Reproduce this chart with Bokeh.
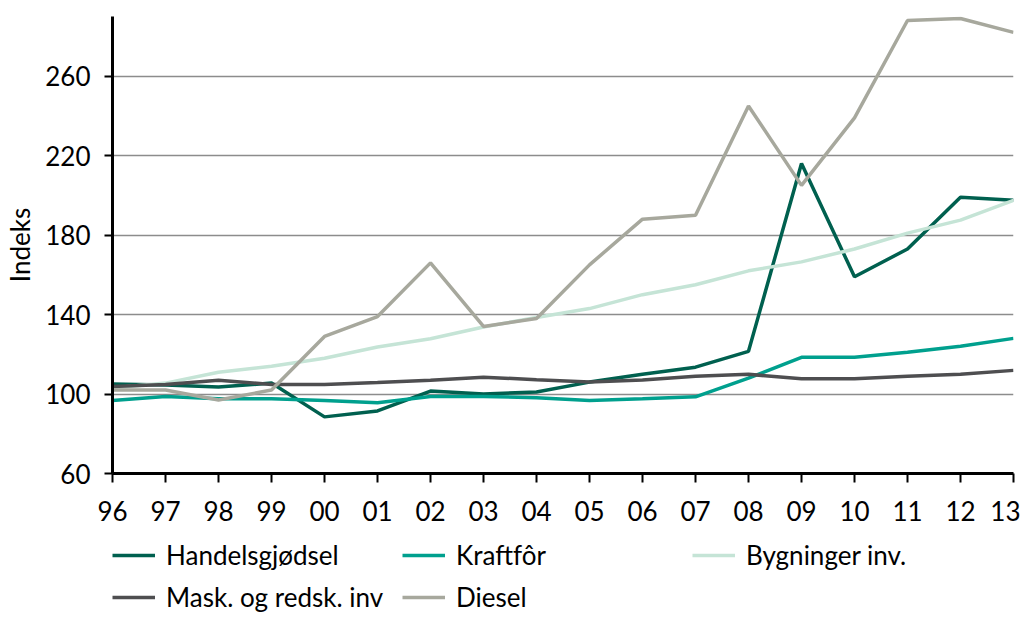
from bokeh.plotting import figure
from bokeh.models import FixedTicker, Legend, LegendItem, Range1d
from bokeh.layouts import column
from bokeh.embed import file_html
from bokeh.resources import INLINE

years = list(range(1996, 2014))
year_labels = ["96", "97", "98", "99", "00", "01", "02", "03", "04", "05",
               "06", "07", "08", "09", "10", "11", "12", "13"]

handelsgjodsel = [105, 104.5, 103.5, 105.5, 88.5, 91.5, 101.5, 100, 101, 106,
                  110, 113.5, 121.5, 216, 159, 173, 199, 197.5]
kraftfor = [96.8, 98.8, 97.6, 97.6, 96.8, 95.6, 98.8, 98.8, 98.1, 96.8,
            97.6, 98.6, 108, 118.5, 118.5, 121, 124, 128]
bygninger = [103, 105.5, 111, 114, 118, 123.7, 127.8, 133.7, 138.5, 143,
             150, 155, 162, 166.5, 173, 181, 187.5, 197.5]
mask = [103.8, 104.8, 106.9, 104.8, 104.8, 105.8, 106.9, 108.5, 107.2, 106,
        107, 108.9, 109.9, 107.7, 107.7, 108.9, 109.9, 111.9]
diesel = [102, 102, 97, 102, 129, 139, 166, 134, 138, 165,
          188, 190, 245, 205, 239, 288, 289, 282]

series_names = ["Handelsgjødsel", "Kraftfôr", "Bygninger inv.", "Mask. og redsk. inv", "Diesel"]
series_values = [handelsgjodsel, kraftfor, bygninger, mask, diesel]
series_colors = ["#00604F", "#00A08E", "#C5E4D6", "#4E4E50", "#A7A89D"]

y_ticks = [60, 100, 140, 180, 220, 260]

FONT = "Lato"
FS = "26px"
LW = 3.5

# ---------------- main chart ----------------
p = figure(width=1020, height=539, output_backend="svg", toolbar_location=None,
           x_range=Range1d(1996, 2013), y_range=Range1d(60, 290),
           min_border_left=112, min_border_top=16, min_border_right=7,
           min_border_bottom=66)
p.outline_line_color = None
p.background_fill_color = "white"
p.border_fill_color = "white"

p.xgrid.grid_line_color = None
p.ygrid.ticker = FixedTicker(ticks=y_ticks)
p.ygrid.grid_line_color = "#8C8C8C"
p.ygrid.grid_line_width = 1.5

p.xaxis.ticker = FixedTicker(ticks=years)
p.xaxis.major_label_overrides = {y: l for y, l in zip(years, year_labels)}
p.xaxis.axis_line_width = 3
p.xaxis.axis_line_color = "black"
p.xaxis.major_tick_out = 9
p.xaxis.major_tick_in = 0
p.xaxis.major_tick_line_width = 2
p.xaxis.minor_tick_line_color = None
p.xaxis.major_label_text_font = FONT
p.xaxis.major_label_text_font_size = FS
p.xaxis.major_label_text_color = "black"
p.xaxis.major_label_standoff = 18

p.yaxis.ticker = FixedTicker(ticks=y_ticks)
p.yaxis.axis_line_width = 3
p.yaxis.axis_line_color = "black"
p.yaxis.major_tick_out = 8
p.yaxis.major_tick_in = 0
p.yaxis.major_tick_line_width = 2
p.yaxis.minor_tick_line_color = None
p.yaxis.major_label_text_font = FONT
p.yaxis.major_label_text_font_size = FS
p.yaxis.major_label_text_color = "black"
p.yaxis.major_label_standoff = 14
p.yaxis.axis_label = "Indeks"
p.yaxis.axis_label_text_font = FONT
p.yaxis.axis_label_text_font_size = FS
p.yaxis.axis_label_text_font_style = "normal"
p.yaxis.axis_label_text_color = "black"
p.yaxis.axis_label_standoff = 6

for name, vals, col in zip(series_names, series_values, series_colors):
    p.line(years, vals, line_color=col, line_width=LW)

# ---------------- legend strip ----------------
lg = figure(width=1020, height=80, output_backend="svg", toolbar_location=None,
            x_range=Range1d(0, 1), y_range=Range1d(0, 1),
            x_axis_location=None, y_axis_location=None,
            min_border_left=0, min_border_right=0, min_border_top=0, min_border_bottom=0)
lg.outline_line_color = None
lg.xgrid.grid_line_color = None
lg.ygrid.grid_line_color = None
lg.background_fill_color = "white"
lg.border_fill_color = "white"

nan = float("nan")
items = []
for name, col in zip(series_names, series_colors):
    # legend key only: a single NaN point draws nothing but gives the key a glyph
    r = lg.line(x=[nan], y=[nan], line_color=col, line_width=LW)
    items.append(LegendItem(label=name, renderers=[r]))

legend = Legend(items=items, location=(0, 1), orientation="horizontal", ncols=3,
                glyph_width=43, glyph_height=42, label_height=42, label_width=236,
                label_standoff=11, spacing=0, padding=0, margin=0,
                label_text_font=FONT, label_text_font_size=FS,
                label_text_color="black",
                border_line_color=None, background_fill_alpha=0)
lg.add_layout(legend, "center")

layout = column(p, lg, spacing=0)
open("out.html", "w").write(file_html(layout, INLINE))
